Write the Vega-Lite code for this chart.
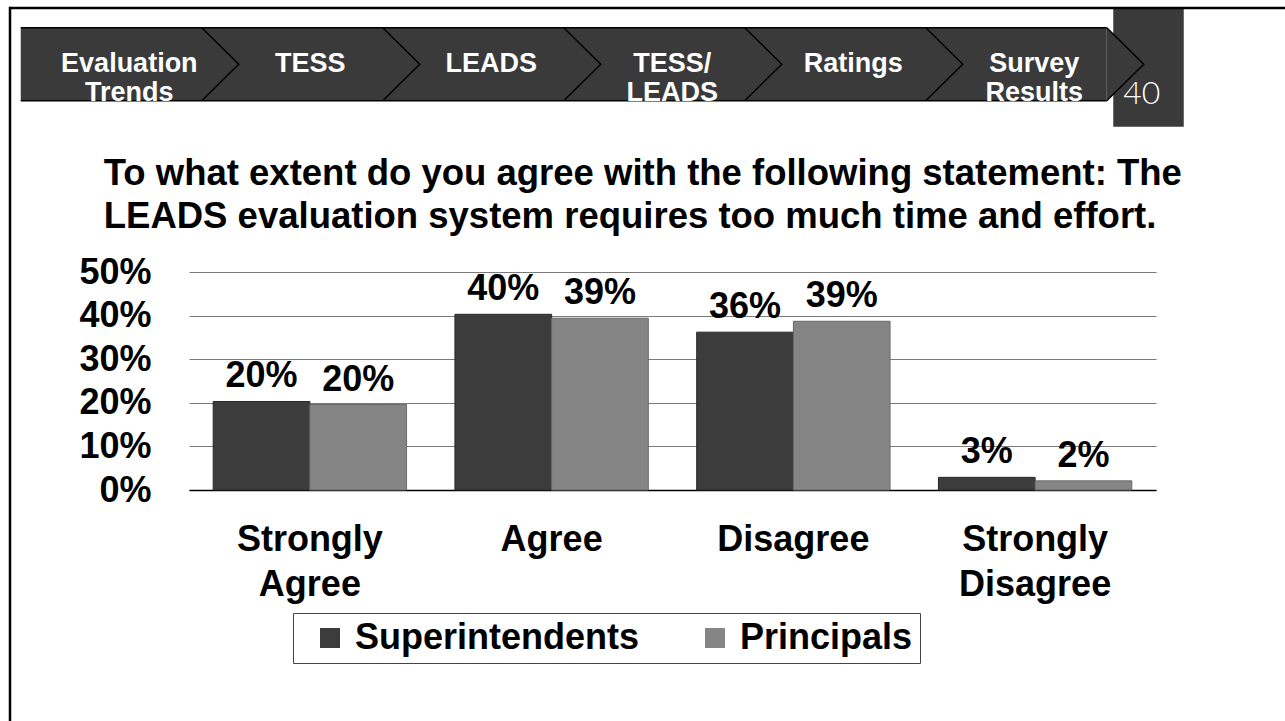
{
  "$schema": "https://vega.github.io/schema/vega-lite/v6.json",
  "background": "white",
  "padding": {"left": 8, "top": 6, "right": 0, "bottom": 0},
  "spacing": 0,
  "bounds": "flush",
  "config": {"font": "Liberation Sans", "view": {"stroke": null}, "concat": {"spacing": 0}},
  "datasets": {
    "nav": [
      {"index": 0, "item": "Evaluation\nTrends"},
      {"index": 1, "item": "TESS"},
      {"index": 2, "item": "LEADS"},
      {"index": 3, "item": "TESS/\nLEADS"},
      {"index": 4, "item": "Ratings"},
      {"index": 5, "item": "Survey\nResults"}
    ],
    "survey": [
      {"response": "Strongly Agree", "group": "Superintendents", "share": 0.203},
      {"response": "Strongly Agree", "group": "Principals", "share": 0.196},
      {"response": "Agree", "group": "Superintendents", "share": 0.403},
      {"response": "Agree", "group": "Principals", "share": 0.394},
      {"response": "Disagree", "group": "Superintendents", "share": 0.362},
      {"response": "Disagree", "group": "Principals", "share": 0.387},
      {"response": "Strongly Disagree", "group": "Superintendents", "share": 0.029},
      {"response": "Strongly Disagree", "group": "Principals", "share": 0.021}
    ]
  },
  "vconcat": [
    {
      "width": 1276,
      "height": 263.5,
      "layer": [
        {
          "data": {"values": [{"page": "40"}]},
          "mark": {"type": "rect", "color": "#3a3a3a"},
          "encoding": {
            "x": {"datum": 5.436, "type": "quantitative", "scale": {"domain": [-0.6594, 6.3903], "nice": false, "zero": false}, "axis": null},
            "x2": {"datum": 5.8254},
            "y": {"datum": 0, "type": "quantitative", "scale": {"domain": [0, 263.5], "reverse": true, "nice": false, "zero": false}, "axis": null},
            "y2": {"datum": 118.75}
          }
        },
        {
          "data": {"values": [{"band": "nav"}]},
          "mark": {"type": "rect", "color": "#3a3a3a"},
          "encoding": {
            "x": {"datum": -0.6, "type": "quantitative", "scale": {"domain": [-0.6594, 6.3903], "nice": false, "zero": false}, "axis": null},
            "x2": {"datum": 5.4},
            "y": {"datum": 19.75, "type": "quantitative", "scale": {"domain": [0, 263.5], "reverse": true, "nice": false, "zero": false}, "axis": null},
            "y2": {"datum": 92.75}
          }
        },
        {
          "data": {"values": [{"edge": "top"}]},
          "mark": {"type": "rule", "color": "black", "strokeWidth": 1.5},
          "encoding": {
            "x": {"datum": -0.6, "type": "quantitative", "scale": {"domain": [-0.6594, 6.3903], "nice": false, "zero": false}, "axis": null},
            "x2": {"datum": 5.4},
            "y": {"datum": 19.75, "type": "quantitative", "scale": {"domain": [0, 263.5], "reverse": true, "nice": false, "zero": false}, "axis": null}
          }
        },
        {
          "data": {"values": [{"edge": "bottom"}]},
          "mark": {"type": "rule", "color": "black", "strokeWidth": 1.5},
          "encoding": {
            "x": {"datum": -0.6, "type": "quantitative", "scale": {"domain": [-0.6594, 6.3903], "nice": false, "zero": false}, "axis": null},
            "x2": {"datum": 5.4},
            "y": {"datum": 92.75, "type": "quantitative", "scale": {"domain": [0, 263.5], "reverse": true, "nice": false, "zero": false}, "axis": null}
          }
        },
        {
          "data": {"name": "nav"},
          "mark": {"type": "point", "shape": "M1.9836,-1L2.9973,0L1.9836,1", "size": 5329, "filled": true, "fill": "#3a3a3a", "stroke": "black", "strokeWidth": 1.5, "opacity": 1},
          "encoding": {
            "x": {"field": "index", "type": "quantitative", "scale": {"domain": [-0.6594, 6.3903], "nice": false, "zero": false}, "axis": null},
            "y": {"datum": 56.25, "type": "quantitative", "scale": {"domain": [0, 263.5], "reverse": true, "nice": false, "zero": false}, "axis": null}
          }
        },
        {
          "data": {"name": "nav"},
          "mark": {"type": "text", "color": "white", "fontWeight": "bold", "fontSize": 27, "lineBreak": "\n", "lineHeight": 29, "align": "center", "baseline": "middle"},
          "encoding": {
            "x": {"field": "index", "type": "quantitative", "scale": {"domain": [-0.6594, 6.3903], "nice": false, "zero": false}, "axis": null},
            "y": {"datum": 56.25, "type": "quantitative", "scale": {"domain": [0, 263.5], "reverse": true, "nice": false, "zero": false}, "axis": null},
            "text": {"field": "item"}
          }
        },
        {
          "data": {"values": [{"page": "40"}]},
          "mark": {"type": "text", "color": "white", "font": "Lato", "fontWeight": 300, "fontSize": 32, "align": "center", "baseline": "alphabetic"},
          "encoding": {
            "x": {"datum": 5.5934, "type": "quantitative", "scale": {"domain": [-0.6594, 6.3903], "nice": false, "zero": false}, "axis": null},
            "y": {"datum": 95.75, "type": "quantitative", "scale": {"domain": [0, 263.5], "reverse": true, "nice": false, "zero": false}, "axis": null},
            "text": {"field": "page"}
          }
        },
        {
          "data": {"values": [{"edge": "frame top"}]},
          "mark": {"type": "rule", "color": "black", "strokeWidth": 2.5},
          "encoding": {
            "x": {"datum": -0.6594, "type": "quantitative", "scale": {"domain": [-0.6594, 6.3903], "nice": false, "zero": false}, "axis": null},
            "x2": {"datum": 6.3903},
            "y": {"datum": 0, "type": "quantitative", "scale": {"domain": [0, 263.5], "reverse": true, "nice": false, "zero": false}, "axis": null}
          }
        },
        {
          "data": {"values": [{"edge": "frame left"}]},
          "mark": {"type": "rule", "color": "black", "strokeWidth": 2.5, "strokeCap": "square"},
          "encoding": {
            "x": {"datum": -0.6594, "type": "quantitative", "scale": {"domain": [-0.6594, 6.3903], "nice": false, "zero": false}, "axis": null},
            "y": {"datum": 0, "type": "quantitative", "scale": {"domain": [0, 263.5], "reverse": true, "nice": false, "zero": false}, "axis": null},
            "y2": {"datum": 716}
          }
        },
        {
          "data": {"values": [{"question": "To what extent do you agree with the following statement: The\nLEADS evaluation system requires too much time and effort."}]},
          "mark": {"type": "text", "color": "black", "fontWeight": "bold", "fontSize": 36.5, "lineBreak": "\n", "lineHeight": 43, "align": "left", "baseline": "alphabetic"},
          "encoding": {
            "x": {"datum": -0.1414, "type": "quantitative", "scale": {"domain": [-0.6594, 6.3903], "nice": false, "zero": false}, "axis": null},
            "y": {"datum": 176.75, "type": "quantitative", "scale": {"domain": [0, 263.5], "reverse": true, "nice": false, "zero": false}, "axis": null},
            "text": {"field": "question"}
          }
        }
      ]
    },
    {
      "spacing": 0,
      "hconcat": [
        {
          "width": 68,
          "height": 200,
          "data": {"values": [{"edge": "spacer"}]},
          "mark": {"type": "rule", "color": "black", "strokeWidth": 2.5, "opacity": 0},
          "encoding": {
            "x": {"datum": 0, "type": "quantitative", "scale": {"domain": [0, 1]}, "axis": null},
            "y": {"datum": 0, "type": "quantitative", "scale": {"domain": [0, 1]}, "axis": null},
            "y2": {"datum": 1}
          }
        },
        {
          "width": 967,
          "height": 218,
          "data": {"name": "survey"},
          "encoding": {
            "x": {
              "field": "response", "type": "nominal",
              "sort": ["Strongly Agree", "Agree", "Disagree", "Strongly Disagree"],
              "scale": {"paddingInner": 0.2, "paddingOuter": 0.1},
              "title": null,
              "axis": {"labelAngle": 0, "labelExpr": "split(datum.value, ' ')", "labelFontSize": 36, "labelFontWeight": "bold", "labelColor": "black", "labelLineHeight": 45, "labelPadding": 32, "ticks": false, "domainColor": "black", "domainWidth": 1.5, "labelLimit": 0}
            },
            "xOffset": {"field": "group", "type": "nominal", "sort": ["Superintendents", "Principals"]},
            "y": {
              "field": "share", "type": "quantitative",
              "scale": {"domain": [0, 0.5], "nice": false},
              "title": null,
              "axis": {"values": [0, 0.1, 0.2, 0.3, 0.4, 0.5], "format": ".0%", "labelFontSize": 36, "labelFontWeight": "bold", "labelColor": "black", "labelPadding": 38, "ticks": false, "domain": false, "gridColor": "#7a7a7a", "gridWidth": 1.2}
            }
          },
          "layer": [
            {
              "mark": {"type": "bar", "strokeWidth": 1},
              "encoding": {
                "color": {
                  "field": "group", "type": "nominal",
                  "scale": {"domain": ["Superintendents", "Principals"], "range": ["#3c3c3c", "#858585"]},
                  "legend": {"title": null, "orient": "none", "legendX": 283, "legendY": 605, "direction": "horizontal", "symbolType": "square", "symbolSize": 400, "symbolStrokeWidth": 0, "labelFontSize": 36, "labelFontWeight": "bold", "labelColor": "black", "strokeColor": "#444", "fillColor": "white", "padding": 7, "columnPadding": 45, "symbolOffset": 12, "labelOffset": 7, "labelLimit": 0}
                },
                "stroke": {
                  "field": "group", "type": "nominal",
                  "scale": {"domain": ["Superintendents", "Principals"], "range": ["#2a2a2a", "#6a6a6a"]},
                  "legend": null
                }
              }
            },
            {
              "mark": {"type": "text", "fontSize": 36, "fontWeight": "bold", "baseline": "alphabetic", "dy": -14, "color": "black"},
              "encoding": {"text": {"field": "share", "type": "quantitative", "format": ".0%"}}
            }
          ]
        }
      ]
    }
  ]
}
